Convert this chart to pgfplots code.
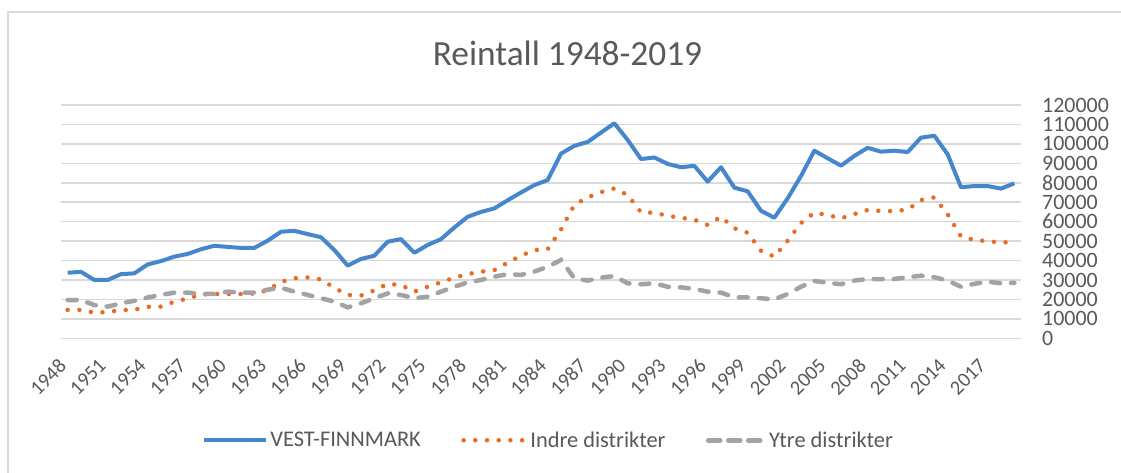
\documentclass[border=0pt]{standalone}
\usepackage{pgfplots}
\usepackage{pgfplotstable}
\pgfplotsset{compat=1.18}
\usepackage{fontspec}
\setmainfont{Carlito}
\definecolor{vf}{RGB}{70,134,205}
\definecolor{indre}{RGB}{232,108,36}
\definecolor{ytre}{RGB}{163,163,163}
\definecolor{txt}{RGB}{89,89,89}
\definecolor{gridc}{RGB}{217,217,217}
\pgfplotsset{
  ytrelegend/.style={legend image code/.code={\draw[##1, dash pattern=on 12bp off 8bp] (2bp,0bp) -- (58bp,0bp);}},
}
\pgfplotstableread{
year vf indre ytre
1948 33700 14600 19700
1949 34200 14600 19700
1950 30000 13200 17100
1951 30000 13500 16300
1952 33000 14500 18000
1953 33400 14700 19300
1954 38000 16200 21000
1955 39700 16300 22300
1956 42000 18800 23500
1957 43400 20500 23500
1958 45800 22500 22800
1959 47600 22800 22800
1960 47000 22800 24000
1961 46500 22800 23500
1962 46500 23000 23500
1963 50200 24800 25000
1964 54800 29000 26000
1965 55300 30900 24000
1966 53600 31300 22300
1967 52000 30300 20600
1968 45400 26000 18900
1969 37400 22300 15900
1970 40800 22000 18000
1971 42500 24600 20600
1972 49700 28000 23100
1973 51000 27400 22300
1974 44000 24000 20600
1975 48000 26500 21400
1976 51000 28800 24000
1977 57000 31200 26500
1978 62500 33000 28800
1979 65000 34300 30000
1980 66800 35100 31700
1981 71000 38900 33000
1982 75000 42500 32600
1983 78800 45400 34300
1984 81400 45800 36800
1985 95000 56000 40300
1986 99000 68600 30900
1987 101000 72500 29700
1988 105800 75200 31200
1989 110600 77100 32000
1990 102000 73700 28300
1991 92200 64800 27800
1992 93000 64600 28300
1993 89700 63000 26500
1994 88000 62000 26200
1995 88700 61000 25400
1996 80600 58300 24000
1997 88000 62500 23500
1998 77500 56600 21100
1999 75600 54300 21000
2000 65600 45000 20600
2001 62000 42000 20000
2002 72000 50200 22800
2003 83500 59300 26500
2004 96500 64600 29500
2005 92600 63400 28600
2006 88800 61700 27800
2007 93800 63900 29700
2008 98000 66000 30500
2009 96000 65500 30500
2010 96500 65400 30500
2011 95800 66200 31400
2012 103200 71100 32200
2013 104200 72500 31400
2014 94600 63800 29700
2015 77700 52300 26500
2016 78300 50600 28000
2017 78300 50000 29100
2018 77000 49200 28300
2019 79700 49700 28500
}\data
\begin{document}
\begin{tikzpicture}
\useasboundingbox (0,0) rectangle (1121bp,-473bp);
\fill[white] (0,0) rectangle (1121bp,-473bp);
\draw[gridc, line width=2bp] (8bp,-473bp) -- (8bp,-12bp) -- (1121bp,-12bp);
\node[anchor=base, text=txt, font=\fontsize{35.5}{35.5}\selectfont, inner sep=0pt] at (567.5bp,-65.7bp) {Reintall 1948-2019};
\begin{axis}[
  at={(61bp,-338.3bp)}, anchor=south west,
  scale only axis, width=960bp, height=233.3bp,
  xmin=1947.5, xmax=2019.5, ymin=0, ymax=120000,
  axis line style={draw=none}, tick style={draw=none},
  ymajorgrids, ytick={0,10000,...,120000},
  major grid style={gridc, line width=1.5bp},
  scaled y ticks=false, scaled x ticks=false,
  /pgf/number format/.cd, fixed, 1000 sep={}, assume math mode=true, /pgfplots/.cd,
  yticklabel pos=right,
  yticklabel style={anchor=west, inner sep=0pt, xshift=21bp, text=txt, font=\fontsize{22}{22}\selectfont},
  xtick={1948,1951,...,2017},
  xticklabel style={xshift=-10bp, yshift=-19bp, rotate=45, anchor=north east, inner sep=0pt, text=txt, font=\fontsize{20.5}{20.5}\selectfont},
  legend columns=3,
  legend style={at={(0.508,-0.437)}, anchor=center, draw=none, fill=none,
    font=\fontsize{22.5}{22.5}\selectfont, text=txt,
    /tikz/every even column/.append style={column sep=38bp},
    nodes={inner sep=2.5bp}},
  legend image code/.code={\draw[#1] (0bp,0bp) -- (62bp,0bp);},
]
\addplot[vf, line width=4bp, line join=round] table[x=year,y=vf]{\data};
\addlegendentry{VEST-FINNMARK}
\addplot[indre, line width=4.5bp, line cap=round, dash pattern=on 0bp off 11.7bp] table[x=year,y=indre]{\data};
\addlegendentry{Indre distrikter}
\addplot[ytre, line width=4.5bp, line cap=round, dash pattern=on 9bp off 11bp, ytrelegend] table[x=year,y=ytre]{\data};
\addlegendentry{Ytre distrikter}
\end{axis}
\end{tikzpicture}
\end{document}
